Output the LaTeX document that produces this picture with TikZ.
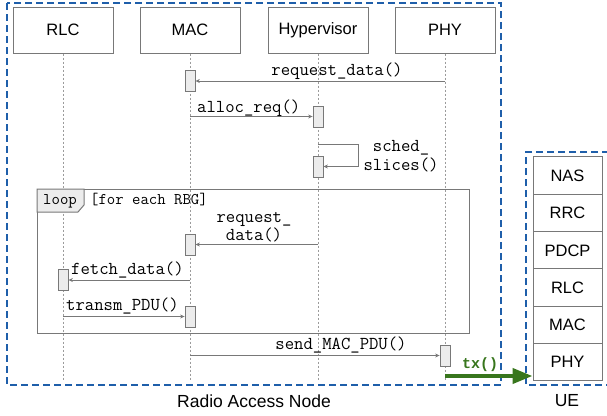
\documentclass[tikz,border=0pt]{standalone}
\usepackage{fontspec}
\setmainfont{Liberation Sans}
\newfontfamily\txfont{Liberation Mono}
\usetikzlibrary{arrows.meta}
\definecolor{ranblue}{RGB}{31,95,170}
\definecolor{txgreen}{RGB}{56,118,29}
\definecolor{linegray}{RGB}{120,120,120}
\definecolor{lifegray}{RGB}{155,155,155}
\definecolor{actgray}{RGB}{236,236,236}
\tikzset{
  head/.style={draw=linegray, line width=1pt, minimum width=100pt, minimum height=46pt,
    inner sep=0pt, font=\fontsize{16.5}{19}\selectfont},
  layer/.style={draw=linegray, line width=1pt, minimum width=69pt, minimum height=37.33pt,
    inner sep=0pt, font=\fontsize{16.5}{19}\selectfont},
  act/.style={draw=linegray, fill=actgray, line width=0.8pt, minimum width=10pt,
    minimum height=21pt, inner sep=0pt},
  life/.style={draw=lifegray, line width=0.8pt, dash pattern=on 2pt off 2pt},
  msg/.style={draw=linegray, line width=0.8pt, -{Stealth[length=4.5pt,width=4pt]}},
  lbl/.style={inner sep=0pt, font=\fontsize{18.2}{18.5}\selectfont\ttfamily},
  guardlbl/.style={inner sep=0pt, font=\fontsize{16.3}{16}\selectfont\ttfamily},
  ranbox/.style={draw=ranblue, line width=1.6pt, dash pattern=on 7pt off 4pt},
  txarrow/.style={draw=txgreen, line width=4pt, -{Triangle[length=20pt,width=15pt]}},
}
\begin{document}
\begin{tikzpicture}[x=1pt, y=-1pt]
  \useasboundingbox (0,0) rectangle (607,415);
  % dashed frames
  \draw[ranbox] (7,3) rectangle (501,385);
  \draw[ranbox] (609,152) -| (526,385) -- (609,385);
  \node[font=\fontsize{17.5}{19}\selectfont] (ranlbl) at (254,401) {Radio Access Node};
  \node[font=\fontsize{17.5}{19}\selectfont] (uelbl) at (567,401) {UE};

  % heads and lifelines
  \foreach \n/\x/\t in {rlc/63/RLC, mac/190/MAC, hyp/318/Hypervisor, phy/445/PHY}{
    \node[head] (\n) at (\x,30) {\t};
    \coordinate (\n end) at (\x,380);
    \draw[life] (\n.south) -- (\n end);
  }

  % UE protocol stack
  \foreach \t [count=\i] in {NAS,RRC,PDCP,RLC,MAC,PHY}{
    \node[layer] (ue\i) at (567.5,{157+37.33*\i-18.67}) {\t};
  }

  % loop frame
  \draw[linegray, line width=1pt] (37,189) rectangle (469,333);
  \draw[linegray, line width=1pt, fill=actgray] (37,189) -- (84,189) -- (84,205)
    -- (78,212) -- (37,212) -- cycle;
  \node[guardlbl] (looptag) at (60,201) {loop};
  \node[guardlbl, anchor=west] (guard) at (90,200) {[for each RBG]};

  % activations
  \node[act] (a1) at (190,81) {};
  \node[act] (a2) at (318,116.5) {};
  \node[act] (a3) at (318,166.5) {};
  \node[act] (a4) at (190,244.5) {};
  \node[act] (a5) at (63,280) {};
  \node[act] (a6) at (190,316.5) {};
  \node[act] (a7) at (445,355.5) {};

  % messages
  \draw[msg] (phy |- a1) -- (a1.east);
  \node[lbl] (m1) at (337,71) {request\_data()};
  \draw[msg] (mac |- a2) -- (a2.west);
  \node[lbl, anchor=west] (m2) at (197,108) {alloc\_req()};
  \coordinate (selfturn) at (358,144);
  \draw[msg] (hyp |- selfturn) -- (selfturn) |- (a3.east);
  \node[lbl, align=center] (m3) at (401,156) {sched\_\\slices()};
  \draw[msg] (hyp |- a4) -- (a4.east);
  \node[lbl, align=center] (m4) at (254,227) {request\_\\data()};
  \draw[msg] (mac |- a5) -- (a5.east);
  \node[lbl, anchor=west] (m5) at (71,270) {fetch\_data()};
  \draw[msg] (rlc |- a6) -- (a6.west);
  \node[lbl, anchor=west] (m6) at (66,306) {transm\_PDU()};
  \draw[msg] (mac |- a7) -- (a7.west);
  \node[lbl] (m7) at (341,345) {send\_MAC\_PDU()};

  % transmission to the UE
  \coordinate (txstart) at (445,376);
  \draw[txarrow] (txstart) -- (ue6.west |- txstart);
  \node[inner sep=0pt, font=\fontsize{15}{16}\selectfont\txfont\bfseries, text=txgreen]
    (txlbl) at (480,365) {tx()};
\end{tikzpicture}
\end{document}
